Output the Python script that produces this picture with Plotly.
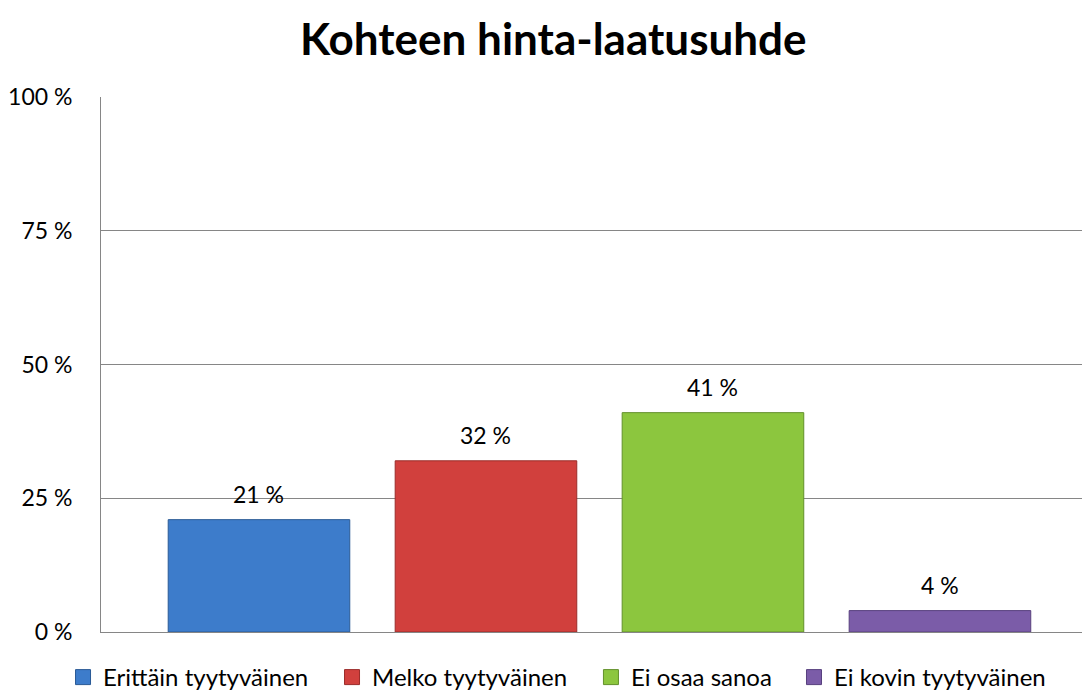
import plotly.graph_objects as go

categories = ["Erittäin tyytyväinen", "Melko tyytyväinen", "Ei osaa sanoa", "Ei kovin tyytyväinen"]
values = [21, 32, 41, 4]
colors = ["#3D7CCB", "#D1403D", "#8CC63E", "#7B5CA8"]
edge_colors = ["#2A5A96", "#9A2C2A", "#62902A", "#58407E"]
ytick_vals = [0, 25, 50, 75, 100]
ytick_text = ["0 %", "25 %", "50 %", "75 %", "100 %"]
title_text = "Kohteen hinta-laatusuhde"

FONT = "Lato"
FS = 23
legend_x = [-0.0384, 0.2336, 0.4954, 0.7007]

fig = go.Figure()
for i, (cat, val) in enumerate(zip(categories, values)):
    fig.add_trace(go.Bar(
        x=[i], y=[val], name=cat, width=0.8,
        marker=dict(color=colors[i], line=dict(color=edge_colors[i], width=1)),
        showlegend=False,
    ))
    lg = "legend" if i == 0 else f"legend{i+1}"
    fig.add_trace(go.Scatter(
        x=[None], y=[None], mode="markers", name=cat, legend=lg,
        marker=dict(symbol="square", size=15, color=colors[i],
                    line=dict(color=edge_colors[i], width=1)),
        showlegend=True,
    ))

annotations = []
for i, val in enumerate(values):
    annotations.append(dict(
        x=i, y=val, xref="x", yref="y", text=f"{val} %", showarrow=False,
        yanchor="bottom", yshift=10, font=dict(family=FONT, size=23, color="#000000"),
    ))

legend_common = dict(orientation="h", xanchor="left", y=-0.086, yanchor="middle",
                     font=dict(family=FONT, size=24, color="#000000"),
                     itemwidth=30, bgcolor="rgba(0,0,0,0)")

layout_legends = {}
for i in range(4):
    key = "legend" if i == 0 else f"legend{i+1}"
    layout_legends[key] = dict(legend_common, x=legend_x[i])

fig.update_layout(
    width=1082, height=692,
    margin=dict(l=93, r=0, t=89, b=68),
    paper_bgcolor="white", plot_bgcolor="white",
    title=dict(text=f"<b>{title_text}</b>", x=0.504, xanchor="center", y=0.954, yanchor="middle",
               font=dict(family=FONT, size=44, color="#000000")),
    barmode="overlay",
    xaxis=dict(range=[-0.696, 3.661], showticklabels=False, showgrid=False, zeroline=False,
               showline=True, linecolor="#868686", linewidth=1, ticks=""),
    yaxis=dict(range=[0, 100], tickvals=ytick_vals, ticktext=ytick_text, showgrid=True,
               gridcolor="#868686", gridwidth=1, zeroline=False, showline=True,
               linecolor="#868686", linewidth=1, ticks="", ticklabelstandoff=23,
               tickfont=dict(family=FONT, size=FS, color="#000000")),
    annotations=annotations,
    font=dict(family=FONT),
    **layout_legends,
)

fig.write_html("out.html")
